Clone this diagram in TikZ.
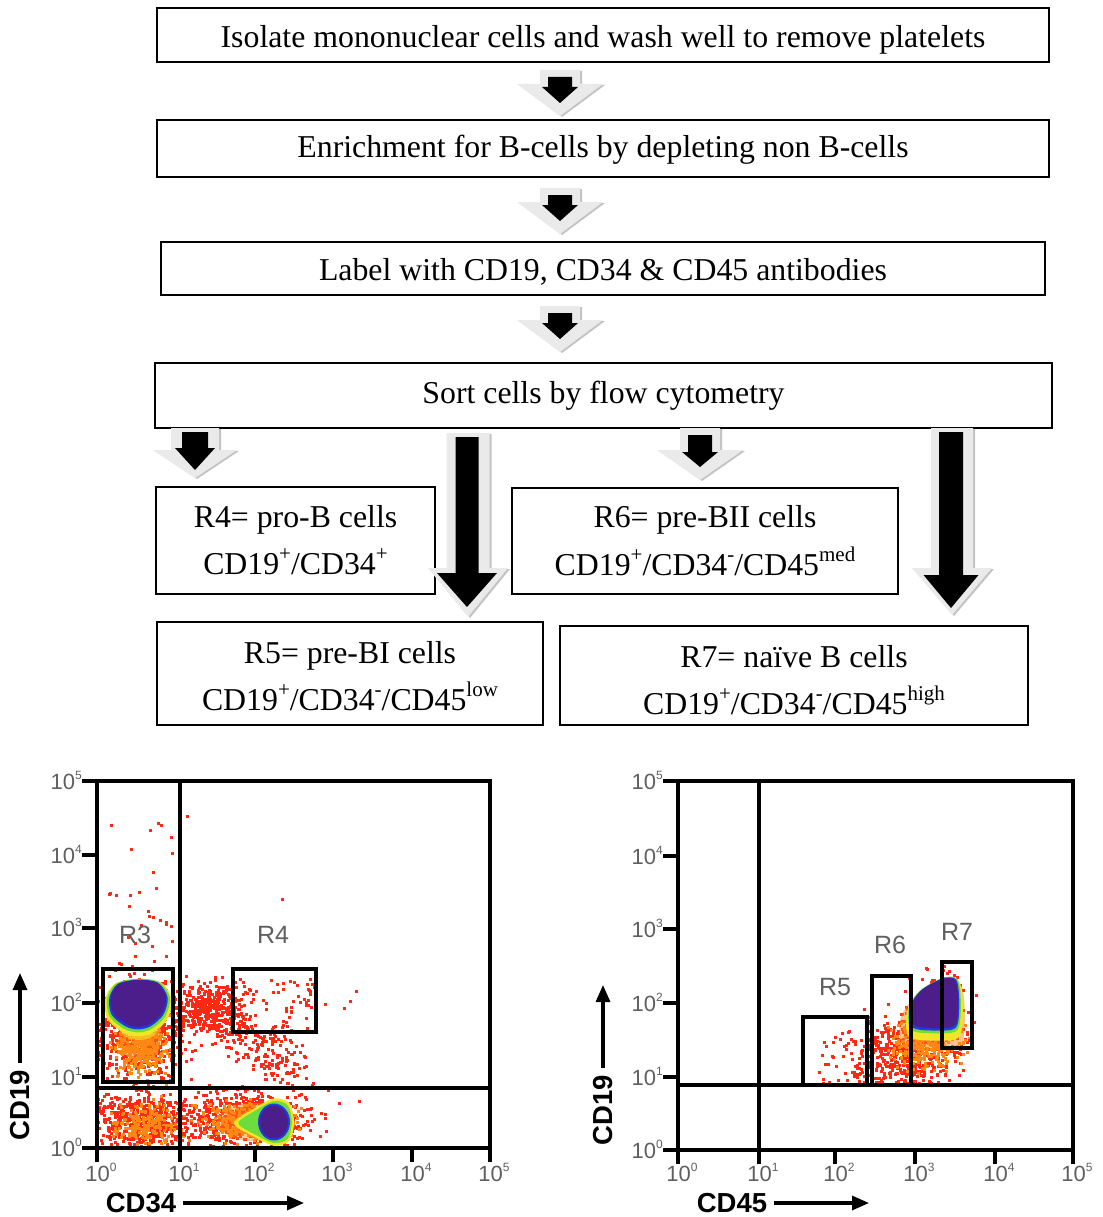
\documentclass[tikz,border=0pt]{standalone}
\usepackage{fontspec}
\setmainfont{Liberation Serif}
\setsansfont{Liberation Sans}
\usetikzlibrary{arrows.meta}
\definecolor{fcred}{RGB}{255,40,20}
\definecolor{fcorange}{RGB}{255,135,20}
\definecolor{fcyellow}{RGB}{240,230,40}
\definecolor{fcgreen}{RGB}{110,220,60}
\definecolor{fcblue}{RGB}{30,60,230}
\definecolor{fcpurple}{RGB}{75,30,140}
\definecolor{tickgray}{RGB}{95,95,95}
\definecolor{arrgray}{RGB}{234,234,234}
\definecolor{arrshadow}{RGB}{195,195,195}
\newcommand\sups[1]{\raisebox{0.45em}{\fontsize{21}{21}\selectfont #1}}
\newcommand\tl[1]{10\raisebox{0.42em}{\fontsize{12}{12}\selectfont #1}}
% block arrow: cx, top, shaft half width, head top, head half width, tip, fill
\newcommand\blockarr[7]{%
  \fill[#7] ({#1-#3},{#2}) -- ({#1+#3},{#2}) -- ({#1+#3},{#4}) -- ({#1+#5},{#4})
    -- ({#1},{#6}) -- ({#1-#5},{#4}) -- ({#1-#3},{#4}) -- cycle;}
\newcommand\smallarr[2]{%
  \blockarr{#1+2}{#2+1}{20}{#2+15}{43}{#2+47}{arrshadow}%
  \blockarr{#1}{#2}{20}{#2+14}{43}{#2+46}{arrgray}%
  \blockarr{#1}{#2+7}{12}{#2+17}{18}{#2+33}{black}}
% gaussian cloud: N, cx, cy, sx, sy, colour, size
\newcommand\cloud[7]{%
  \foreach \k in {1,...,#1}{%
    \pgfmathsetmacro\px{#2+#4*(rand+rand+rand)}%
    \pgfmathsetmacro\py{#3+#5*(rand+rand+rand)}%
    \fill[#6] (\px,\py) rectangle ++(#7,#7);}}
% uniform cloud: N, x1, x2, y1, y2, colour, size
\newcommand\ucloud[7]{%
  \foreach \k in {1,...,#1}{%
    \pgfmathsetmacro\px{#2+(#3-#2)*rnd}%
    \pgfmathsetmacro\py{#4+(#5-#4)*rnd}%
    \fill[#6] (\px,\py) rectangle ++(#7,#7);}}
% line cloud: N, x1, y1, x2, y2, noise, colour
\newcommand\lcloud[7]{%
  \foreach \k in {1,...,#1}{%
    \pgfmathsetmacro\tt{rnd}%
    \pgfmathsetmacro\px{#2+(#4-#2)*\tt+#6*(rand+rand)}%
    \pgfmathsetmacro\py{#3+(#5-#3)*\tt+#6*(rand+rand)}%
    \fill[#7] (\px,\py) rectangle ++(3,3);}}
\newcommand\blob[5]{%
  \fill[#4, shift={(#1,#2)}, scale=#3] plot[smooth cycle] coordinates {#5};}
\begin{document}
\begin{tikzpicture}[x=1pt,y=-1pt]
\tikzset{
  stepbox/.style={draw, line width=1.6pt, inner sep=0pt, align=center,
    font=\fontsize{31.8}{47}\selectfont},
  ticklab/.style={font=\sffamily\fontsize{22}{22}\selectfont, text=tickgray, inner sep=0pt},
  gatelab/.style={font=\sffamily\fontsize{25}{25}\selectfont, text=tickgray, inner sep=0pt},
  axtitle/.style={font=\sffamily\bfseries\fontsize{27.5}{27.5}\selectfont, inner sep=0pt, outer sep=7pt},
  axarr/.style={line width=3.2pt, -{Triangle[length=17pt,width=14pt]}},
  plotframe/.style={line width=4.2pt, line cap=rect},
  gatebox/.style={line width=3.4pt},
  quadline/.style={line width=3.2pt}}
\useasboundingbox (0,0) rectangle (1102,1217);
\pgfmathsetseed{4711}

% ---------- flow chart boxes ----------
\node[stepbox, minimum width=892pt, minimum height=54pt, text height=25pt, text depth=0pt] (b1) at (603,35)
  {Isolate mononuclear cells and wash well to remove platelets};
\node[stepbox, minimum width=892pt, minimum height=57pt, text height=25pt, text depth=6pt] (b2) at (603,148.5)
  {Enrichment for B-cells by depleting non B-cells};
\node[stepbox, minimum width=884pt, minimum height=53pt, text height=24pt, text depth=0pt] (b3) at (603,268.5)
  {Label with CD19, CD34 \& CD45 antibodies};
\node[stepbox, minimum width=897pt, minimum height=65pt] (b4) at (603.5,395.5)
  {Sort cells by flow cytometry};
\node[stepbox, minimum width=279pt, minimum height=107pt] (r4) at (295.5,540.5)
  {R4= pro-B cells\\CD19\sups{+}/CD34\sups{+}};
\node[stepbox, minimum width=386pt, minimum height=106pt] (r6) at (705,541)
  {R6= pre-BII cells\\[1pt]CD19\sups{+}/CD34\sups{-}/CD45\sups{med}};
\node[stepbox, minimum width=386pt, minimum height=103pt] (r5) at (350,673.5)
  {\rule{0pt}{28pt}R5= pre-BI cells\\CD19\sups{+}/CD34\sups{-}/CD45\sups{low}};
\node[stepbox, minimum width=468pt, minimum height=99pt] (r7) at (794,675.5)
  {\rule{0pt}{31pt}R7= naïve B cells\\CD19\sups{+}/CD34\sups{-}/CD45\sups{high}};

% ---------- block arrows ----------
\smallarr{560}{70}
\smallarr{560}{188}
\smallarr{560}{306}
% left small
\blockarr{197}{429}{24}{451}{42}{479}{arrshadow}
\blockarr{195}{428}{24}{450}{42}{478}{arrgray}
\blockarr{195}{432}{13}{448}{20}{470}{black}
% middle small
\blockarr{702}{429}{20}{451}{43}{481}{arrshadow}
\blockarr{700}{428}{20}{450}{43}{480}{arrgray}
\blockarr{700}{435}{12}{452}{18}{467}{black}
% long left
\blockarr{470}{434}{21.5}{569}{40}{618}{arrshadow}
\blockarr{468}{433}{21.5}{568}{40}{617}{arrgray}
\blockarr{467}{437}{11.5}{573}{30}{607}{black}
% long right
\blockarr{954}{429}{21}{569}{40}{616}{arrshadow}
\blockarr{952}{428}{21}{568}{40}{615}{arrgray}
\blockarr{951}{432}{12}{575}{27.5}{608}{black}

% ---------- left plot data ----------
\begin{scope}
\clip (97,781) rectangle (490,1148);
\ucloud{14}{108}{172}{815}{900}{fcred}{3}
\ucloud{18}{108}{172}{900}{968}{fcred}{3}
\fill[fcred] (186,815) rectangle ++(3,3);
\fill[fcred] (281,898) rectangle ++(3,3);
\fill[fcred] (355,990) rectangle ++(3,3);
\fill[fcred] (349,1000) rectangle ++(3,3);
\fill[fcred] (343,1007) rectangle ++(3,3);
\fill[fcred] (324,1003) rectangle ++(3,3);
\fill[fcred] (338,1102) rectangle ++(3,3);
\fill[fcred] (358,1100) rectangle ++(3,3);
\cloud{650}{140}{1030}{20}{26}{fcred}{3}
\cloud{350}{140}{1045}{13}{14}{fcorange}{3}
\cloud{550}{140}{1120}{24}{15}{fcred}{3}
\cloud{220}{145}{1122}{15}{10}{fcorange}{3}
\lcloud{300}{190}{1000}{295}{1070}{14}{fcred}
\cloud{280}{208}{1005}{18}{12}{fcred}{3}
\ucloud{60}{236}{315}{978}{1030}{fcred}{3}
\cloud{650}{240}{1118}{33}{13}{fcred}{3}
\cloud{320}{245}{1120}{22}{9}{fcorange}{3}
% R3 core
\fill[fcorange, opacity=.45] (140,1040) ellipse [x radius=22, y radius=20];
\fill[fcyellow, opacity=.6] (139,1030) ellipse [x radius=18, y radius=10];
\blob{138}{1007}{1.22}{fcyellow}{(-27,-6) (-19,-19) (0,-23) (19,-20) (28,-6) (24,10) (12,21) (0,24) (-12,21) (-25,10)}
\blob{138}{1005}{1.14}{fcgreen}{(-27,-6) (-19,-19) (0,-23) (19,-20) (28,-6) (24,10) (12,21) (0,24) (-12,21) (-25,10)}
\blob{138}{1004}{1.06}{fcblue}{(-27,-6) (-19,-19) (0,-23) (19,-20) (28,-6) (24,10) (12,21) (0,24) (-12,21) (-25,10)}
\blob{138}{1003}{1.0}{fcpurple}{(-27,-6) (-19,-19) (0,-23) (19,-20) (28,-6) (24,10) (12,21) (0,24) (-12,21) (-25,10)}
% lower right core
\fill[fcorange, opacity=.45] (255,1122) ellipse [x radius=38, y radius=19];
\blob{274}{1122}{1.18}{fcyellow}{(17,0) (13,-16) (0,-20) (-16,-12) (-34,1) (-16,13) (0,20) (13,16)}
\blob{274}{1122}{1.05}{fcgreen}{(17,0) (13,-16) (0,-20) (-16,-12) (-34,1) (-16,13) (0,20) (13,16)}
\fill[fcblue] (274,1122) ellipse [x radius=16, y radius=18.5];
\fill[fcpurple] (274,1122) ellipse [x radius=14, y radius=16.5];
\end{scope}

% ---------- left plot axes ----------
\draw[quadline] (180,781) -- (180,1148);
\draw[quadline] (97,1088) -- (490,1088);
\draw[gatebox] (103,969) rectangle (173,1082);
\draw[gatebox] (233,969) rectangle (316,1032);
\node[gatelab] (lR3) at (135,935) {R3};
\node[gatelab] (lR4) at (273,935) {R4};
\draw[plotframe] (97,781) rectangle (490,1148);
\foreach \y/\e in {1148/0,1077/1,1003/2,928/3,855/4,781/5}{
  \draw[plotframe] (84,\y) -- (97,\y);
  \node[ticklab, anchor=base east] (ly\e) at (82,\y+8) {\tl{\e}};}
\foreach \x/\e in {97/0,180/1,255/2,333/3,412/4,490/5}{
  \draw[plotframe] (\x,1148) -- (\x,1160);
  \node[ticklab, anchor=base] (lx\e) at (\x+4,1181) {\tl{\e}};}
\node[axtitle, rotate=90] (ycdL) at (20,1105) {CD19};
\coordinate (ycdLtip) at (20,973);
\draw[axarr] (ycdL) -- (ycdLtip);
\node[axtitle] (xcdL) at (141,1203) {CD34};
\coordinate (xcdLtip) at (304,1203);
\draw[axarr] (xcdL) -- (xcdLtip);

% ---------- right plot data ----------
\begin{scope}
\clip (678,781) rectangle (1073,1084);
\cloud{550}{905}{1052}{26}{19}{fcred}{3}
\cloud{280}{925}{1045}{17}{12}{fcorange}{3}
\ucloud{35}{818}{866}{1030}{1083}{fcred}{3}
\cloud{150}{940}{1005}{13}{18}{fcred}{3}
\blob{934}{1016}{1.4}{fcorange, opacity=.5}{(-22,22) (-24,2) (-14,-13) (6,-24) (19,-23) (22,-2) (19,22) (0,25)}
\blob{936}{1010}{1.22}{fcyellow}{(-22,22) (-24,2) (-14,-13) (6,-24) (19,-23) (22,-2) (19,22) (0,25)}
\blob{936}{1005}{1.13}{fcgreen}{(-22,22) (-24,2) (-14,-13) (6,-24) (19,-23) (22,-2) (19,22) (0,25)}
\blob{936}{1004}{1.06}{fcblue}{(-22,22) (-24,2) (-14,-13) (6,-24) (19,-23) (22,-2) (19,22) (0,25)}
\blob{936}{1003}{1.0}{fcpurple}{(-22,22) (-24,2) (-14,-13) (6,-24) (19,-23) (22,-2) (19,22) (0,25)}
\end{scope}

% ---------- right plot axes ----------
\draw[quadline] (759,781) -- (759,1150);
\draw[quadline] (678,1085) -- (1073,1085);
\draw[gatebox] (803,1017) rectangle (867,1085);
\draw[gatebox] (872,976) rectangle (911,1085);
\draw[gatebox] (942,962) rectangle (972,1048);
\node[gatelab] (rR5) at (835,987) {R5};
\node[gatelab] (rR6) at (890,945) {R6};
\node[gatelab] (rR7) at (957,932) {R7};
\draw[plotframe] (678,781) rectangle (1073,1150);
\foreach \y/\e in {1150/0,1077/1,1003/2,929/3,856/4,781/5}{
  \draw[plotframe] (665,\y) -- (678,\y);
  \node[ticklab, anchor=base east] (ry\e) at (663,\y+8) {\tl{\e}};}
\foreach \x/\e in {678/0,759/1,835/2,915/3,995/4,1073/5}{
  \draw[plotframe] (\x,1150) -- (\x,1162);
  \node[ticklab, anchor=base] (rx\e) at (\x+4,1181) {\tl{\e}};}
\node[axtitle, rotate=90] (ycdR) at (603,1110) {CD19};
\coordinate (ycdRtip) at (603,985);
\draw[axarr] (ycdR) -- (ycdRtip);
\node[axtitle] (xcdR) at (732,1203) {CD45};
\coordinate (xcdRtip) at (869,1203);
\draw[axarr] (xcdR) -- (xcdRtip);
\end{tikzpicture}
\end{document}
